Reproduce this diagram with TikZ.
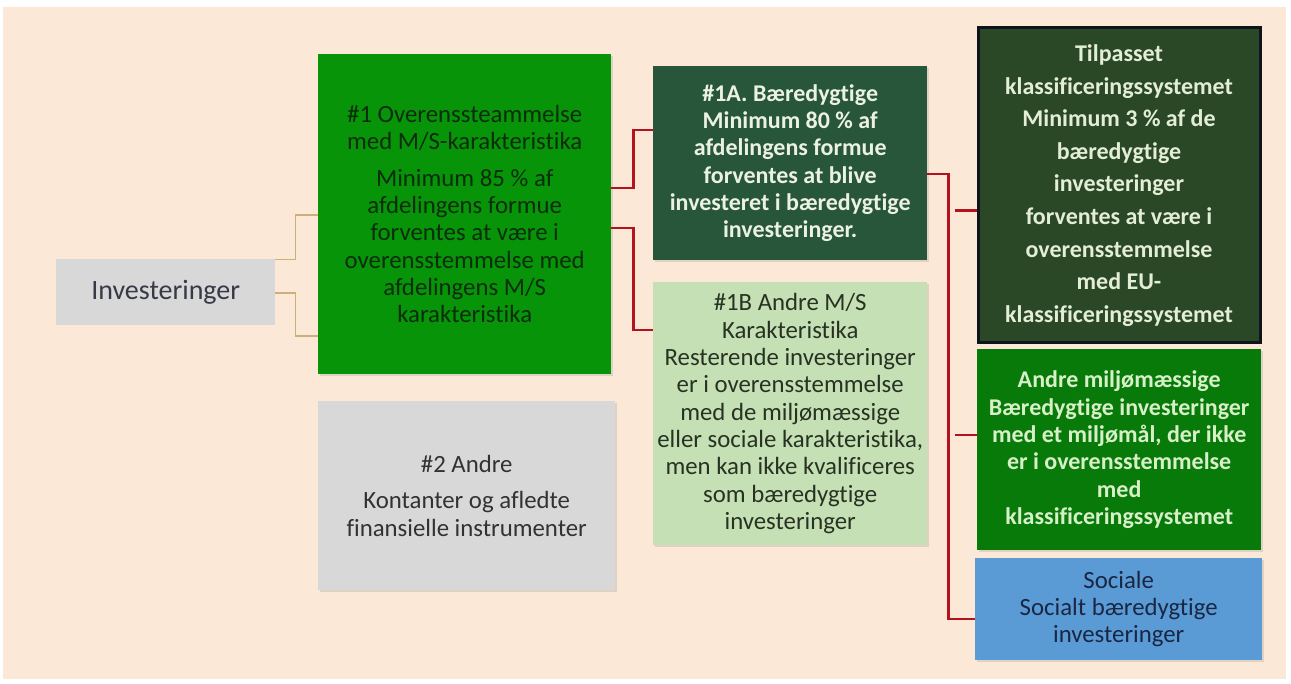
\documentclass[tikz,border=0pt]{standalone}
\usepackage{fontspec}
\setmainfont{Carlito}[Ligatures={NoCommon}]
\usetikzlibrary{calc,shadows}
\definecolor{bgpeach}{RGB}{251,232,214}
\definecolor{boxgray}{RGB}{216,216,216}
\definecolor{invtext}{RGB}{55,58,70}
\definecolor{graytext}{RGB}{50,50,50}
\definecolor{greenone}{RGB}{8,148,8}
\definecolor{greenonetext}{RGB}{12,45,12}
\definecolor{darkgreen}{RGB}{40,86,58}
\definecolor{paletext}{RGB}{236,242,226}
\definecolor{lightgreen}{RGB}{197,224,180}
\definecolor{lgtext}{RGB}{40,50,35}
\definecolor{tilpgreen}{RGB}{42,72,38}
\definecolor{tilpborder}{RGB}{14,20,28}
\definecolor{tilptext}{RGB}{228,238,214}
\definecolor{andregreen}{RGB}{8,122,10}
\definecolor{andretext}{RGB}{216,240,200}
\definecolor{socblue}{RGB}{91,155,213}
\definecolor{soctext}{RGB}{25,38,68}
\definecolor{redline}{RGB}{180,18,30}
\definecolor{tanline}{RGB}{205,175,125}
\begin{document}
\begin{tikzpicture}[x=1pt,y=-1pt,
  box/.style={rectangle, inner sep=0pt, anchor=north west, align=center,
    font=\fontsize{24.8}{27.3}\selectfont},
  shade/.style={drop shadow={opacity=0.22,shadow xshift=1.5pt,shadow yshift=-2pt}},
  redconn/.style={draw=redline, line width=2.2pt},
  tanconn/.style={draw=tanline, line width=1.3pt}]
\useasboundingbox (0,0) rectangle (1291,684);
\fill[white] (0,0) rectangle (1291,684);
\fill[bgpeach] (3,7) rectangle (1286,679);

\node[box, fill=boxgray, text=invtext, minimum width=219pt, minimum height=66pt,
  font=\fontsize{28}{32}\selectfont] (inv) at (56,259) {Investeringer};

\node[box, shade, fill=greenone, text=greenonetext, minimum width=293pt, minimum height=320pt] (g1) at (318,54)
  {\#1 Overenssteammelse\\med M/S-karakteristika\\[9pt]Minimum 85 \% af\\afdelingens formue\\forventes at være i\\overensstemmelse med\\afdelingens M/S\\karakteristika};

\node[box, shade, fill=boxgray, text=graytext, minimum width=297pt, minimum height=189pt] (g2) at (318,401)
  {\#2 Andre\\[9.5pt]Kontanter og afledte\\finansielle instrumenter};

\node[box, shade, fill=darkgreen, text=paletext, minimum width=274pt, minimum height=194pt,
  font=\fontsize{24}{27.3}\selectfont\bfseries] (a1) at (653,66)
  {\#1A. Bæredygtige\\Minimum 80 \% af\\afdelingens formue\\forventes at blive\\investeret i bæredygtige\\investeringer.};

\node[box, shade, fill=lightgreen, text=lgtext, minimum width=274pt, minimum height=263pt] (b1) at (653,282)
  {\#1B Andre M/S\\Karakteristika\\Resterende investeringer\\er i overensstemmelse\\med de miljømæssige\\eller sociale karakteristika,\\men kan ikke kvalificeres\\som bæredygtige\\investeringer};

\node[box, fill=tilpgreen, draw=tilpborder, line width=3pt, text=tilptext, minimum width=282pt, minimum height=315pt,
  font=\fontsize{24}{32.6}\selectfont\bfseries] (tilp) at (976.5,26.5)
  {Tilpasset\\klassificeringssystemet\\Minimum 3 \% af de\\bæredygtige\\investeringer\\forventes at være i\\overensstemmelse\\med EU-\\klassificeringssystemet};

\node[box, shade, fill=andregreen, text=andretext, minimum width=284pt, minimum height=201pt,
  font=\fontsize{24}{27.3}\selectfont\bfseries] (andre) at (977,349)
  {Andre miljømæssige\\Bæredygtige investeringer\\med et miljømål, der ikke\\er i overensstemmelse\\med\\klassificeringssystemet};

\node[box, shade, fill=socblue, text=soctext, minimum width=287pt, minimum height=102pt] (soc) at (975,558)
  {Sociale\\Socialt bæredygtige\\investeringer};

% connectors
\draw[tanconn] ($(inv.north east)+(0,0.7)$) -- ++(20,0) |- ($(g1.north west)+(0,161)$);
\draw[tanconn] ($(inv.north east)+(0,34)$) -- ++(20,0) |- ($(g1.north west)+(0,282)$);

\draw[redconn] ($(g1.north east)+(0,134)$) -- ++(22,0) |- ($(a1.north west)+(0,64)$);
\draw[redconn] ($(g1.north east)+(0,174)$) -- ++(22,0) |- ($(b1.north west)+(0,48)$);
\draw[redconn] ($(a1.north east)+(0,108)$) -- ++(21,0) |- ($(soc.north west)+(0,61)$);

\coordinate (t1) at ($(tilp.north west)+(-22,184)$);
\coordinate (t2) at ($(andre.north west)+(-22,86)$);
\draw[redconn] (t1) -- ($(tilp.north west)+(0,184)$);
\draw[redconn] (t2) -- ($(andre.north west)+(0,86)$);
\end{tikzpicture}
\end{document}
